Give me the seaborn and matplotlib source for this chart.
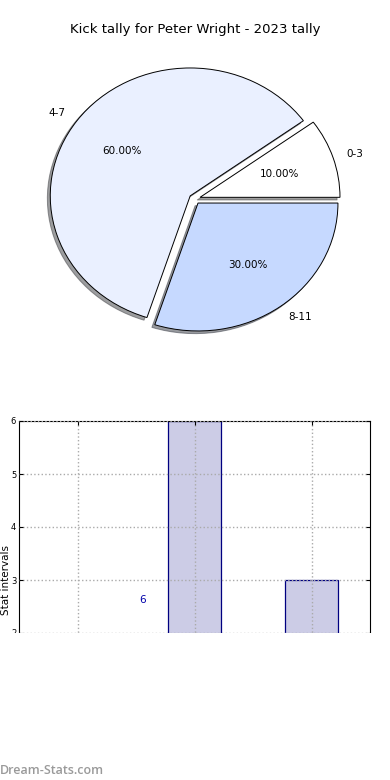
import matplotlib
matplotlib.use("Agg")
import matplotlib.pyplot as plt
import seaborn as sns
import pandas as pd

# kick tally data
intervals = ["0-3", "4-7", "8-11"]
counts = [1, 6, 3]
pie_colors = ["#FFFFFF", "#EAF0FF", "#C6D9FF"]

fig = plt.figure(figsize=(3.9, 7.8), dpi=100)

# --- pie (top) ---
ax_pie = fig.add_axes([0.0508, 0.540, 0.897, 0.410])
ax_pie.pie(counts, labels=intervals, colors=pie_colors, autopct="%.2f%%",
           explode=[0.04, 0.04, 0.04], shadow={"ox": -0.015, "oy": -0.015, "shade": 0.75},
           pctdistance=0.6, labeldistance=1.1,
           wedgeprops={"edgecolor": "black", "linewidth": 0.7},
           textprops={"fontsize": 7.5})
ax_pie.set_aspect("auto")
ax_pie.set_xlim(-1.25, 1.25)
ax_pie.set_ylim(-1.25, 1.25)
fig.text(0.5, 1 - 30 / 780, "Kick tally for Peter Wright - 2023 tally",
         ha="center", va="center", fontsize=9.5)

# --- bars (bottom) ---
ax_bar = fig.add_axes([19 / 390, 1 - 739 / 780, 351 / 390, 318 / 780])
df = pd.DataFrame({"interval": intervals, "count": counts})
sns.barplot(data=df, x="interval", y="count", ax=ax_bar, width=0.45,
            color="#CCCCE6", edgecolor="#000080", linewidth=0.9, saturation=1)
ax_bar.set_xlim(-0.5, 2.5)
ax_bar.set_ylim(0, 6)
ax_bar.set_xlabel("")
ax_bar.set_ylabel("Stat intervals", fontsize=7.5, labelpad=0)
ax_bar.grid(True, linestyle=":", color="#AAAAAA", linewidth=1)
ax_bar.set_axisbelow(False)
ax_bar.tick_params(direction="in", labelsize=6, right=True, top=True, length=3, pad=2)
ax_bar.text(0.56, 2.62, str(counts[1]), color="#0000AA", fontsize=7.5,
            ha="center", va="center")

# white band hiding the lower part, as in the reference
fig.patches.append(plt.Rectangle((0, 0), 1, 1 - 633 / 780, transform=fig.transFigure,
                                 facecolor="white", edgecolor="none", zorder=5))
fig.text(0.0, 1 - 770 / 780, "Dream-Stats.com", color="#9A9A9A", fontsize=9,
         family="Open Sans", fontweight="semibold", ha="left", va="center", zorder=6)

fig.savefig("out.png", dpi=100)
